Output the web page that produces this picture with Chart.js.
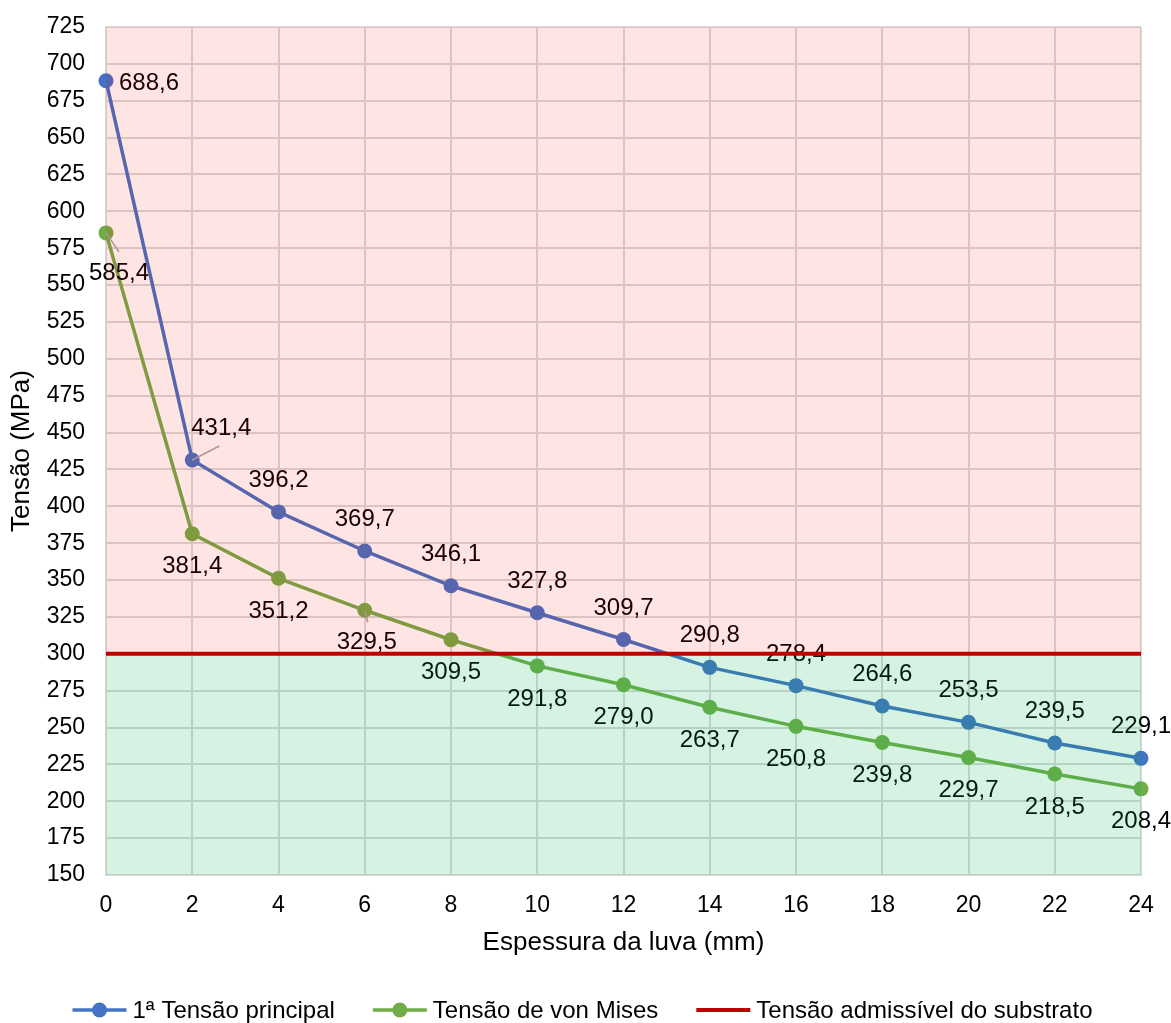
<!DOCTYPE html>
<html>
<head>
<meta charset="utf-8">
<script src="https://cdn.jsdelivr.net/npm/chart.js@4.4.1/dist/chart.umd.min.js"></script>
<style>
  html, body { margin: 0; padding: 0; background: #ffffff; }
  #wrap { width: 1171px; height: 1023px; }
</style>
</head>
<body>
<div id="wrap"><canvas id="grafico" width="1171" height="1023"></canvas></div>
<script>
// Espessura da luva (mm) e tensões (MPa)
const espessura = [0, 2, 4, 6, 8, 10, 12, 14, 16, 18, 20, 22, 24];
const tensaoPrincipal = [688.6, 431.4, 396.2, 369.7, 346.1, 327.8, 309.7, 290.8, 278.4, 264.6, 253.5, 239.5, 229.1];
const tensaoVonMises = [585.4, 381.4, 351.2, 329.5, 309.5, 291.8, 279.0, 263.7, 250.8, 239.8, 229.7, 218.5, 208.4];
const tensaoAdmissivel = 300;

const nomesSeries = ['1ª Tensão principal', 'Tensão de von Mises', 'Tensão admissível do substrato'];
const eixoX = { min: 0, max: 24, passo: 2 };
const eixoY = { min: 150, max: 725, passo: 25 };

// Deslocamento dos rótulos de dados em relação ao ponto (px) e linhas de chamada
const rotuloPrincipal = {
  desloc: espessura.map((_, i) => i === 0 ? [43, 3] : i === 1 ? [29, -31.5] : [0, -31.5]),
  chamadas: { 1: [27, -14] }
};
const rotuloVonMises = {
  desloc: espessura.map((_, i) => i === 0 ? [13, 40] : i === 3 ? [2, 32] : [0, 33]),
  chamadas: { 0: [13, 19], 3: [3, 12] }
};

const FONTE = "'Liberation Sans', Arial, Helvetica, sans-serif";
Chart.defaults.font.family = FONTE;
Chart.defaults.color = '#000000';

const pontos = (ys) => espessura.map((x, i) => ({ x, y: ys[i] }));
const fmt = (v) => v.toFixed(1).replace('.', ',');

// Rótulos de valores e faixas coloridas da área de plotagem
const faixasERotulos = {
  id: 'faixasERotulos',
  beforeDatasetDraw(chart, args) {
    if (args.index !== 2) return;
    const { ctx, chartArea: ca, scales: { y } } = chart;
    ctx.save();
    ctx.font = `24px ${FONTE}`;
    ctx.textAlign = 'center';
    ctx.textBaseline = 'middle';
    [[0, rotuloPrincipal], [1, rotuloVonMises]].forEach(([di, cfg]) => {
      const meta = chart.getDatasetMeta(di);
      const valores = chart.data.datasets[di].data;
      meta.data.forEach((pt, i) => {
        const [dx, dy] = cfg.desloc[i];
        const ch = cfg.chamadas[i];
        if (ch) {
          ctx.strokeStyle = '#a6a6a6';
          ctx.lineWidth = 1.5;
          ctx.beginPath();
          ctx.moveTo(pt.x, pt.y);
          ctx.lineTo(pt.x + ch[0], pt.y + ch[1]);
          ctx.stroke();
        }
        ctx.fillStyle = '#000000';
        ctx.fillText(fmt(valores[i].y), pt.x + dx, pt.y + dy);
      });
    });
    // faixa acima do limite admissível (vermelha) e abaixo (verde)
    const yb = y.getPixelForValue(tensaoAdmissivel);
    ctx.fillStyle = 'rgba(255, 0, 0, 0.106)';
    ctx.fillRect(ca.left, ca.top, ca.right - ca.left, yb - ca.top);
    ctx.fillStyle = 'rgba(0, 176, 80, 0.165)';
    ctx.fillRect(ca.left, yb, ca.right - ca.left, ca.bottom - yb);
    ctx.restore();
  }
};

// Legenda inferior com símbolo de linha e marcador
const legendaInferior = {
  id: 'legendaInferior',
  afterDraw(chart) {
    const { ctx } = chart;
    const ds = chart.data.datasets;
    ctx.save();
    ctx.font = `24px ${FONTE}`;
    ctx.textBaseline = 'middle';
    ctx.textAlign = 'left';
    const simb = 54, gapTxt = 6, gapItem = 38;
    const larguras = ds.map(d => simb + gapTxt + ctx.measureText(d.label).width);
    const total = larguras.reduce((a, b) => a + b, 0) + gapItem * (ds.length - 1);
    let x = chart.width / 2 - 3 - total / 2;
    const yc = 1010;
    ds.forEach((d, i) => {
      ctx.strokeStyle = d.borderColor;
      ctx.lineWidth = d.borderWidth;
      ctx.beginPath();
      ctx.moveTo(x, yc);
      ctx.lineTo(x + simb, yc);
      ctx.stroke();
      if (d.pointRadius > 0) {
        ctx.fillStyle = d.backgroundColor;
        ctx.beginPath();
        ctx.arc(x + simb / 2, yc, d.pointRadius, 0, Math.PI * 2);
        ctx.fill();
      }
      ctx.fillStyle = '#000000';
      ctx.fillText(d.label, x + simb + gapTxt, yc + 1);
      x += larguras[i] + gapItem;
    });
    ctx.restore();
  }
};

new Chart(document.getElementById('grafico'), {
  type: 'line',
  data: {
    datasets: [
      {
        label: nomesSeries[0], data: pontos(tensaoPrincipal),
        borderColor: '#4472C4', backgroundColor: '#4472C4',
        borderWidth: 3.5, pointRadius: 7.5, pointHoverRadius: 7.5, pointBorderWidth: 0,
        order: 2, clip: false
      },
      {
        label: nomesSeries[1], data: pontos(tensaoVonMises),
        borderColor: '#70AD47', backgroundColor: '#70AD47',
        borderWidth: 3.5, pointRadius: 7.5, pointHoverRadius: 7.5, pointBorderWidth: 0,
        order: 1, clip: false
      },
      {
        label: nomesSeries[2], data: espessura.map(x => ({ x, y: tensaoAdmissivel })),
        borderColor: '#C00000', backgroundColor: '#C00000',
        borderWidth: 4, pointRadius: 0, pointHoverRadius: 0,
        order: 0, clip: false
      }
    ]
  },
  options: {
    responsive: false,
    animation: false,
    events: [],
    layout: { padding: { top: 27, right: 30, bottom: 63, left: 0 } },
    plugins: { legend: { display: false }, tooltip: { enabled: false } },
    scales: {
      x: {
        type: 'linear', min: eixoX.min, max: eixoX.max,
        ticks: { stepSize: eixoX.passo, padding: 17, color: '#000000', font: { size: 23 } },
        grid: { color: '#d9d9d9', lineWidth: 2, drawTicks: false },
        border: { color: '#d9d9d9', width: 2 },
        title: { display: true, text: 'Espessura da luva (mm)', color: '#000000', font: { size: 26 }, padding: { top: 0, bottom: 2 } },
        afterFit(s) { s.height = 85; s.paddingLeft = 0; s.paddingRight = 0; }
      },
      y: {
        type: 'linear', min: eixoY.min, max: eixoY.max,
        ticks: { stepSize: eixoY.passo, padding: 21, color: '#000000', font: { size: 23 } },
        grid: { color: '#d9d9d9', lineWidth: 2, drawTicks: false },
        border: { color: '#d9d9d9', width: 2 },
        title: { display: true, text: 'Tensão (MPa)', color: '#000000', font: { size: 26 }, padding: { top: 6, bottom: 0 } },
        afterFit(s) { s.width = 106; s.paddingTop = 0; s.paddingBottom = 0; }
      }
    }
  },
  plugins: [faixasERotulos, legendaInferior]
});
</script>
</body>
</html>
